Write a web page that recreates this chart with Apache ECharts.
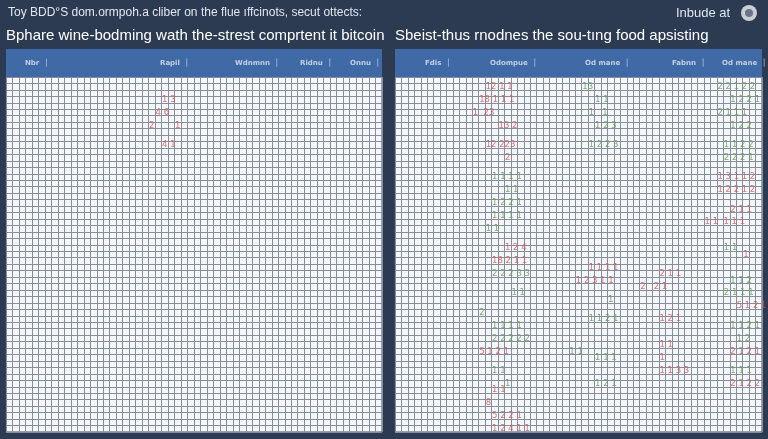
<!DOCTYPE html>
<html><head><meta charset="utf-8">
<script src="https://cdn.jsdelivr.net/npm/echarts@6/dist/echarts.min.js"></script>
<style>html,body{margin:0;padding:0;background:#2c3a52}#c{width:768px;height:439px}</style>
</head><body><div id="c"></div>
<script>
const titleTop = "Toy BDD\u00B0S dom.ormpoh.a cliber on the flue \u0131ffcinots, secut ottects:";
const titleRight = "Inbude at";
const panelTitles = ["Bphare wine-bodming wath the-strest comprtent it bitcoin", "Sbeist-thus rnodnes the sou-t\u0131ng food apsisting"];
const leftHeaders = ["Nbr", "Rapil", "Wdnmnn", "Ridnu", "Onnu"];
const rightHeaders = ["Fdis", "Odompue", "Od mane", "Fabnn", "Od mane"];
// [col, row, text]
const leftRed = [[24,3,"1 3"],[23,5,"4 6"],[22,7,"2"],[26,7,"1"],[24,10,"4 1"]];
const leftGreen = [];
const rightRed = [[14,1,"12 1 1"],[13,3,"18 1 1 1"],[12,5,"1  23"],[16,7,"13 2"],[14,10,"12 223"],[17,12,"2"],
 [17,26,"1 2 4"],[15,28,"18 2 1 1"],[50,15,"1 3 1 1 2"],[50,17,"1 2 2 1 2"],[52,20,"2 1 1"],[48,22,"1 1  1 1 1"],[54,27,"1"],
 [30,29,"1 1 1 1"],[28,31,"1 2 3 1 1"],[13,42,"5 1 2 1"],[15,48,"1 1"],[14,50,"8"],[15,52,"5 2 2 1"],[15,54,"1 2 4 1 1"],
 [41,30,"2 1 1"],[38,32,"2   2 1"],[41,37,"1 2 1"],[41,41,"1 1"],[41,43,"1"],[41,45,"1 1 3 3"],
 [53,35,"5 1 2 1"],[52,42,"2 1 2 1"],[52,47,"2 1 2 2"]];
const rightGreen = [[15,15,"1 1 1 1"],[17,17,"1 1"],[15,19,"1 2 2 1"],[15,21,"1 1 1 1"],[14,23,"1 1"],
 [29,1,"13"],[31,3,"1 1"],[30,5,"1   1"],[31,7,"1 2 3"],[30,10,"1 2 2 3"],
 [50,1,"2 2 1 2 2"],[52,3,"1 2 2 1"],[50,5,"2 1 1 1"],[52,7,"1 2 2"],[51,10,"1 1 2 2"],[51,12,"2 2 2 1"],[51,26,"1 1"],
 [33,34,"1"],[30,37,"1 1 2 1"],[27,42,"1 1"],[31,43,"1 1 1"],[31,47,"1 2 1"],
 [15,30,"2 2 2 3 3"],[18,33,"1 1"],[13,36,"2"],[15,38,"1 1 1 1"],[15,40,"2 2 2 2 2"],[15,45,"1 1"],[17,47,"1"],
 [52,31,"1 1 2"],[51,33,"2 1 1 1"],[52,38,"1 1 2 1"],[53,40,"1 2"],[52,45,"1 1 1"]];

const panels = [
  {left:6, width:376, cols:58, headers:leftHeaders, hx:[25,160,235,300,350], red:leftRed, green:leftGreen},
  {left:395, width:367, cols:57, headers:rightHeaders, hx:[425,490,585,672,722], red:rightRed, green:rightGreen}
];
const ROWS = 55;
const grids=[], xAxes=[], yAxes=[], series=[], graphics=[];
panels.forEach((p,i)=>{
  grids.push({left:p.left, top:77, width:p.width, height:355, show:true, backgroundColor:'#f5f7fa', borderColor:'#3b4a66', borderWidth:1});
  xAxes.push({type:'value', gridIndex:i, min:0, max:p.cols, interval:1, axisLabel:{show:false}, axisTick:{show:false}, axisLine:{show:false}, splitLine:{lineStyle:{color:'#858e9e', width:1}}});
  yAxes.push({type:'value', gridIndex:i, min:0, max:ROWS, interval:1, inverse:true, axisLabel:{show:false}, axisTick:{show:false}, axisLine:{show:false}, splitLine:{lineStyle:{color:'#858e9e', width:1}}});
  [['red','#d9534f'],['green','#5f9e4a']].forEach(([k,c])=>{
    series.push({type:'scatter', xAxisIndex:i, yAxisIndex:i, symbolSize:1, itemStyle:{color:'rgba(0,0,0,0)'},
      data:p[k].map(d=>({value:[d[0],d[1]+0.5], name:d[2]})),
      label:{show:true, position:'right', distance:0, formatter:q=>q.name, color:c, fontSize:8.5, fontFamily:'DejaVu Sans'}});
  });
  graphics.push({type:'rect', shape:{x:p.left, y:49, width:p.width, height:28}, style:{fill:'#3f6aa6'}});
  p.headers.forEach((h,j)=>{
    graphics.push({type:'text', x:p.hx[j], y:63, style:{text:h+'  \u2502', fill:'rgba(235,240,250,0.75)', font:'bold 7px DejaVu Sans', verticalAlign:'middle'}});
  });
  graphics.push({type:'text', x:p.left, y:36, style:{text:panelTitles[i], fill:'#ffffff', font:'15px Liberation Sans', verticalAlign:'middle'}});
});
graphics.push({type:'text', x:8, y:13, style:{text:titleTop, fill:'#e2e6ee', font:'12px Liberation Sans', verticalAlign:'middle'}});
graphics.push({type:'text', x:676, y:13, style:{text:titleRight, fill:'#e2e6ee', font:'13px Liberation Sans', verticalAlign:'middle'}});
graphics.push({type:'circle', shape:{cx:749, cy:13, r:8}, style:{fill:'#c9ced6'}});
graphics.push({type:'circle', shape:{cx:749, cy:13, r:4}, style:{fill:'#6b7587'}});

const chart = echarts.init(document.getElementById('c'));
chart.setOption({backgroundColor:'#2c3a52', animation:false, grid:grids, xAxis:xAxes, yAxis:yAxes, series, graphic:graphics});
</script></body></html>
